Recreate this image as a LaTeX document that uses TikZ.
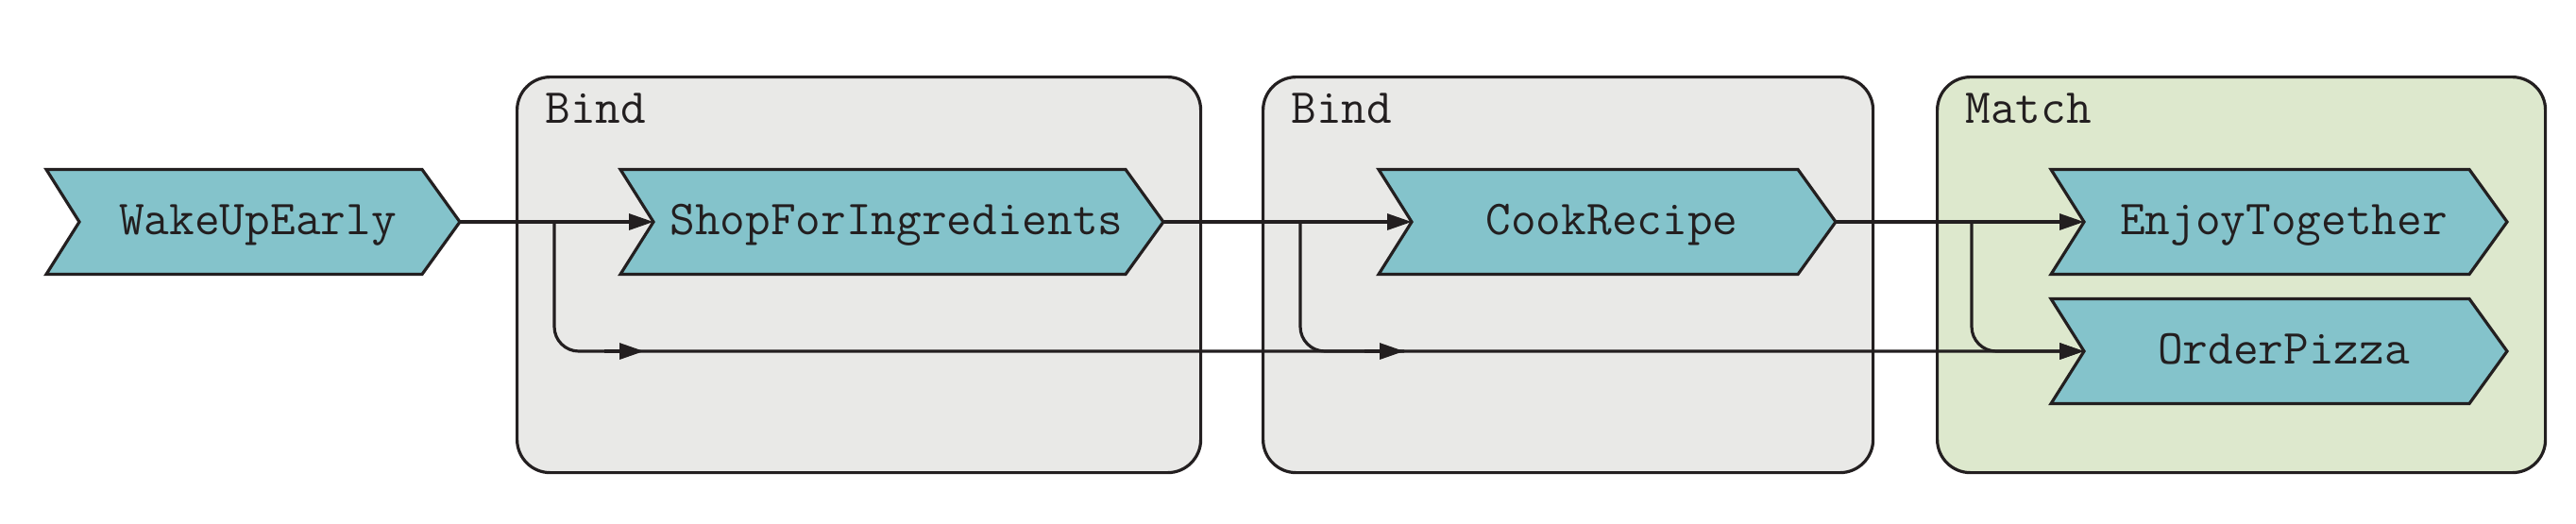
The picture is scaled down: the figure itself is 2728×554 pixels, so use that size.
\documentclass[tikz,border=0pt]{standalone}
\usepackage{fontspec}
\usetikzlibrary{arrows.meta}
\definecolor{ink}{HTML}{231F20}
\definecolor{chevfill}{HTML}{84C3CB}
\definecolor{bindfill}{HTML}{E9E9E7}
\definecolor{matchfill}{HTML}{DDE8CD}
\newcommand\mkchev[5]{%
  \draw[chevshape] (#2,#4-55.5) -- (#3-40,#4-55.5) -- (#3,#4) -- (#3-40,#4+55.5) -- (#2,#4+55.5) -- (#2+35,#4) -- cycle;
  \node[chevtext] (#1) at ({(#2+#3)/2+5},#4+13.5) {#5};
  \coordinate (#1-in) at (#2+35,#4);
  \coordinate (#1-out) at (#3,#4);
}
\begin{document}
\begin{tikzpicture}[x=0.5pt,y=-0.5pt,
  chevshape/.style={draw=ink, fill=chevfill, line width=1.6pt, line join=miter},
  chevtext/.style={anchor=base, inner sep=0pt, font=\ttfamily\fontsize{25.9}{30}\selectfont, text=ink},
  groupbox/.style={draw=ink, rounded corners=17.5pt, line width=1.6pt, anchor=north west, inner sep=0pt, minimum height=209.5pt},
  grouplbl/.style={anchor=base west, inner sep=0pt, font=\ttfamily\fontsize{25.9}{30}\selectfont, text=ink},
  flow/.style={draw=ink, line width=1.6pt, -{Triangle[length=13pt,width=8.5pt]}},
  branch/.style={flow, rounded corners=13pt},
  plainline/.style={draw=ink, line width=1.6pt, rounded corners=13pt}]
\useasboundingbox (0,0) rectangle (2728,554);
% groups
\node[groupbox, fill=bindfill, minimum width=362pt] (bind1) at (546,80) {};
\node[groupbox, fill=bindfill, minimum width=323pt] (bind2) at (1336,80) {};
\node[groupbox, fill=matchfill, minimum width=322pt] (match) at (2050,80) {};
\node[grouplbl] (bind1lbl) at (577,130) {Bind};
\node[grouplbl] (bind2lbl) at (1367,130) {Bind};
\node[grouplbl] (matchlbl) at (2081,130) {Match};
% steps
\mkchev{wake}{49}{487}{235}{WakeUpEarly}
\mkchev{shop}{657}{1232}{235}{ShopForIngredients}
\mkchev{cook}{1460}{1944}{235}{CookRecipe}
\mkchev{enjoy}{2172}{2655}{235}{EnjoyTogether}
\mkchev{pizza}{2172}{2655}{372}{OrderPizza}
% branch points
\coordinate (b1) at (587,235);
\coordinate (b2) at (1377,235);
\coordinate (b3) at (2088,235);
\coordinate (m1) at (682,372);
\coordinate (m2) at (1487,372);
\coordinate (m1s) at (640,372);
\coordinate (m2s) at (1445,372);
% connectors
\draw[flow] (wake-out) -- (shop-in);
\draw[flow] (shop-out) -- (cook-in);
\draw[flow] (cook-out) -- (enjoy-in);
\draw[branch] (b1) |- (pizza-in);
\draw[flow] (m1s) -- (m1);
\draw[flow] (m2s) -- (m2);
\draw[plainline] (b2) |- (m2);
\draw[branch] (b3) |- (pizza-in);
\end{tikzpicture}
\end{document}
